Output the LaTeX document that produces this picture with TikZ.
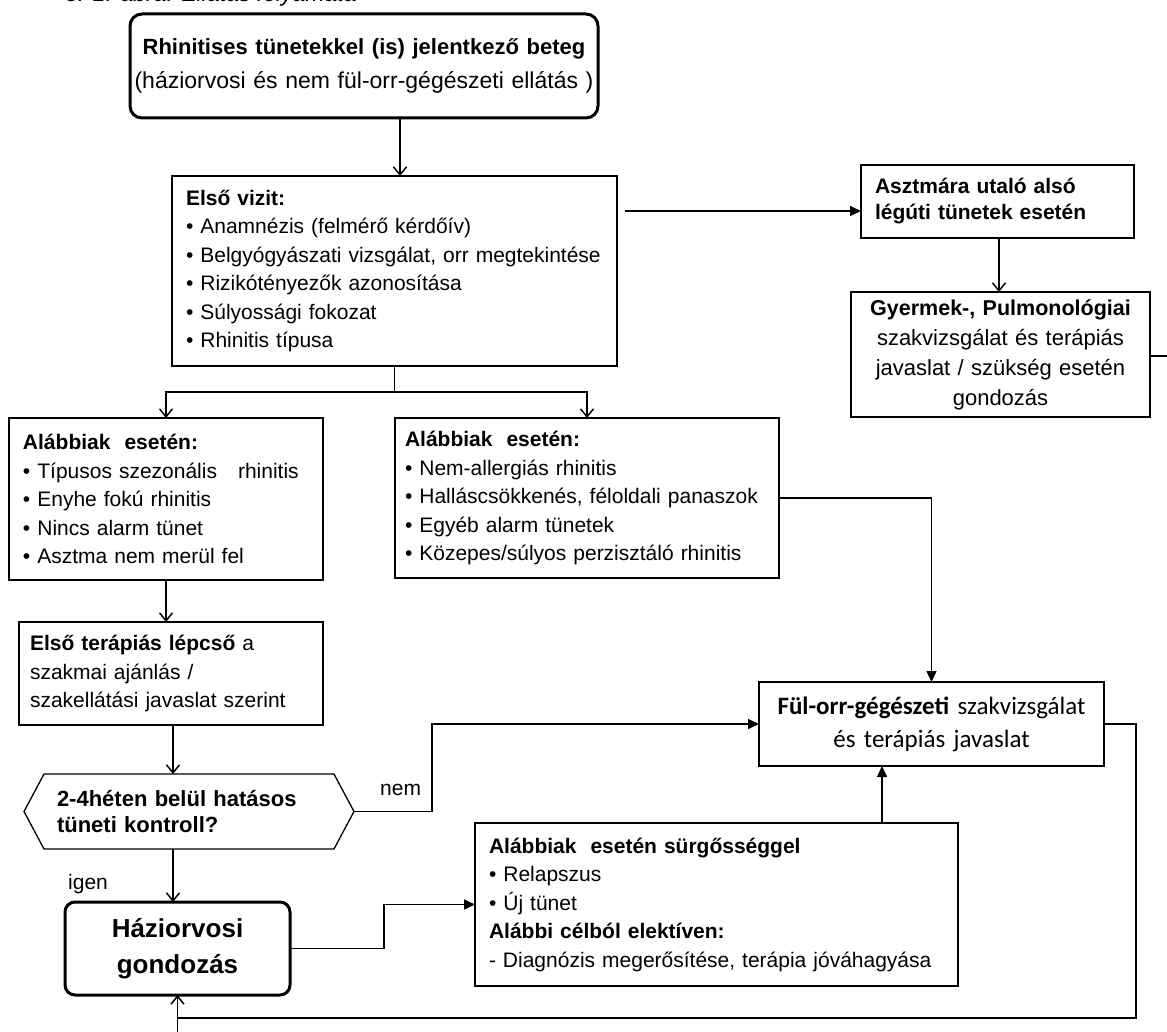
\documentclass[tikz,border=0pt]{standalone}
\usepackage{fontspec}
\setmainfont{Liberation Sans}
\newfontfamily\calfont{Carlito}
\usetikzlibrary{arrows.meta}
\newcommand{\lin}[1]{\mbox{#1}}
\begin{document}
\begin{tikzpicture}[x=1pt,y=-1pt,
  plainbox/.style={draw, line width=1.3pt, anchor=north west, inner ysep=0pt, outer sep=0pt, align=left, font=\fontsize{21}{28.5}\selectfont},
  roundbox/.style={draw, line width=3pt, rounded corners=12pt, anchor=north west, inner ysep=0pt, outer sep=0pt, align=center},
  conn/.style={line width=1.5pt},
  arropen/.style={conn, -{Straight Barb[length=8pt,width=13pt]}},
  arrfill/.style={conn, -{Triangle[length=11pt,width=10pt]}},
  lbl/.style={font=\fontsize{21}{24}\selectfont, inner sep=0pt}
]
\useasboundingbox (0,0) rectangle (1167,1032);
\fill[white] (0,0) rectangle (1167,1032);
\clip (0,0) rectangle (1167,1032);

% caption (cut off at top, as in the reference)
\node[anchor=base west, inner sep=0pt, font=\fontsize{23}{24}\selectfont\itshape] (cap) at (65,2) {3. 1. ábra: Ellátás folyamata};

% boxes
\node[roundbox, minimum width=468pt, minimum height=104pt, text width=460pt, inner xsep=4pt, font=\fontsize{23}{34}\selectfont] (top) at (130,14)
  {{\fontsize{22}{34}\selectfont\bfseries Rhinitises tünetekkel (is) jelentkező beteg}\\(háziorvosi és nem fül-orr-gégészeti ellátás )};

\node[plainbox, minimum width=445pt, minimum height=190pt, text width=417pt, inner xsep=14pt] (first) at (172,176)
  {\lin{\textbf{Első vizit:}}\\\lin{• Anamnézis (felmérő kérdőív)}\\\lin{• Belgyógyászati vizsgálat, orr megtekintése}\\\lin{• Rizikótényezők azonosítása}\\\lin{• Súlyossági fokozat}\\\lin{• Rhinitis típusa}};

\node[plainbox, minimum width=273pt, minimum height=73pt, text width=245pt, inner xsep=14pt, font=\fontsize{21}{26}\selectfont\bfseries] (asz) at (861,165)
  {Asztmára utaló alsó\\légúti tünetek esetén};

\node[plainbox, align=center, minimum width=299pt, minimum height=125pt, text width=285pt, inner xsep=7pt, font=\fontsize{22}{30}\selectfont] (gy) at (851,292)
  {{\fontsize{21.5}{30}\selectfont\bfseries Gyermek-, Pulmonológiai}\\szakvizsgálat és terápiás\\javaslat / szükség esetén\\gondozás};

\node[plainbox, minimum width=314pt, minimum height=162pt, text width=286pt, inner xsep=14pt] (l1) at (9,418)
  {\lin{\textbf{Alábbiak~ esetén:}}\\\lin{• Típusos szezonális~~ rhinitis}\\\lin{• Enyhe fokú rhinitis}\\\lin{• Nincs alarm tünet}\\\lin{• Asztma nem merül fel}};

\node[plainbox, minimum width=384pt, minimum height=160pt, text width=364pt, inner xsep=10pt] (l2) at (395,418)
  {\lin{\textbf{Alábbiak~ esetén:}}\\\lin{• Nem-allergiás rhinitis}\\\lin{• Halláscsökkenés, féloldali panaszok}\\\lin{• Egyéb alarm tünetek}\\\lin{• Közepes/súlyos perzisztáló rhinitis}};

\node[plainbox, minimum width=304pt, minimum height=103pt, text width=282pt, inner xsep=11pt] (l3) at (19,622)
  {\lin{\textbf{Első terápiás lépcső} a}\\\lin{szakmai ajánlás /}\\\lin{szakellátási javaslat szerint}};

\node[plainbox, align=center, minimum width=345pt, minimum height=84pt, text width=335pt, inner xsep=5pt, font=\calfont\fontsize{25}{33}\selectfont] (fog) at (759,682)
  {\textbf{Fül-orr-gégészeti} szakvizsgálat\\és terápiás javaslat};

\node[plainbox, minimum width=483pt, minimum height=163pt, text width=455pt, inner xsep=14pt] (sg) at (475,823)
  {\lin{\textbf{Alábbiak~ esetén sürgősséggel}}\\\lin{• Relapszus}\\\lin{• Új tünet}\\\lin{\textbf{Alábbi célból elektíven:}}\\\lin{- Diagnózis megerősítése, terápia jóváhagyása}};

\node[anchor=north west, inner ysep=0pt, outer sep=0pt, inner xsep=13pt, minimum width=290pt, minimum height=75pt, text width=264pt, align=left, font=\fontsize{22}{26}\selectfont\bfseries] (hex) at (44,774)
  {\lin{2-4héten belül hatásos}\\\lin{tüneti kontroll?}};
\draw[line width=1.3pt] ([xshift=-20pt]hex.west) -- (hex.north west) -- (hex.north east) -- ([xshift=20pt]hex.east) -- (hex.south east) -- (hex.south west) -- cycle;

\node[roundbox, rounded corners=10pt, minimum width=225pt, minimum height=93pt, text width=215pt, inner xsep=5pt, font=\fontsize{26}{36}\selectfont\bfseries] (hazi) at (65,902)
  {Háziorvosi\\gondozás};

% labels
\node[lbl, anchor=base west] (nem) at (380,795) {nem};
\node[lbl, anchor=base west] (igen) at (68,889) {igen};

% connectors
\draw[arropen] (top.south -| 400,0) -- (first.north -| 400,0);
\draw[arrfill, shorten <=8pt] (first.east |- 0,211) -- (asz.west |- 0,211);
\draw[arropen] (asz.south -| 999,0) -- (gy.north -| 999,0);
\coordinate (gyend) at (1167,356);
\draw[conn] (gy.east |- gyend) -- (gyend);
\draw[conn] (first.south) -- ++(0,26) coordinate (br);
\draw[arropen] (br) -| (l1.north);
\draw[arropen] (br) -| (l2.north);
\draw[arrfill] (l2.east) -| (fog.north);
\draw[arropen] (l1.south) -- (l1.south |- l3.north);
\draw[arropen] (l3.south -| 173,0) -- (hex.north -| 173,0);
\draw[arrfill] ([xshift=20pt]hex.east) -- ++(78,0) |- (fog.west);
\draw[arropen] (hex.south -| 173,0) -- (hazi.north -| 173,0);
\draw[arrfill] (hazi.east) -- ++(94,0) |- (sg.west);
\draw[arrfill] (sg.north -| 882,0) -- (fog.south -| 882,0);
\coordinate (retc) at (1136,1018);
\draw[conn, line width=2pt] (fog.east) -| (retc) -- (retc -| hazi.south);
\coordinate (botin) at (177.5,1032);
\draw[arropen] (botin) -- (hazi.south);
\end{tikzpicture}
\end{document}
